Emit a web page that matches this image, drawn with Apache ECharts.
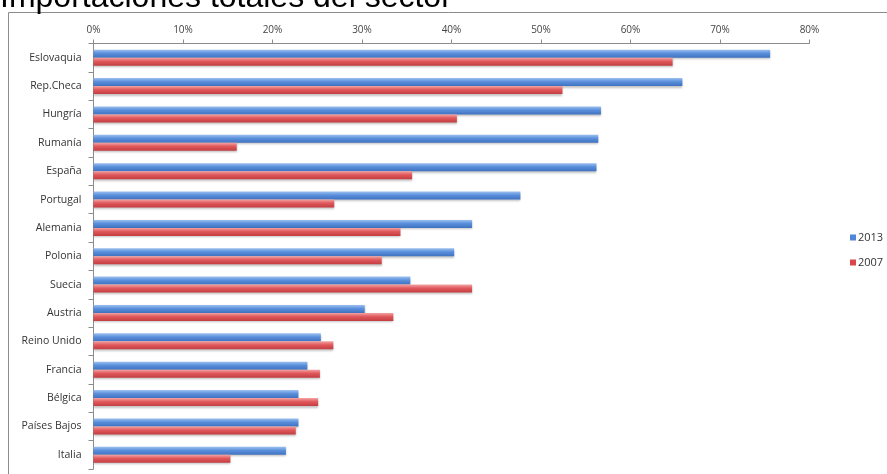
<!DOCTYPE html>
<html>
<head>
<meta charset="utf-8">
<style>
  html, body { margin: 0; padding: 0; background: #fff; }
  #chart { width: 887px; height: 474px; }
</style>
<script src="https://cdn.jsdelivr.net/npm/echarts@6/dist/echarts.min.js"></script>
</head>
<body>
<div id="chart"></div>
<script>
// Import share by country (% of total sector imports)
const countries = ['Eslovaquia', 'Rep.Checa', 'Hungría', 'Rumanía', 'España', 'Portugal', 'Alemania',
  'Polonia', 'Suecia', 'Austria', 'Reino Unido', 'Francia', 'Bélgica', 'Países Bajos', 'Italia'];
const values2013 = [75.6, 65.8, 56.7, 56.4, 56.2, 47.7, 42.3, 40.3, 35.4, 30.3, 25.4, 23.9, 22.9, 22.9, 21.5];
const values2007 = [64.7, 52.4, 40.6, 16.0, 35.6, 26.9, 34.3, 32.2, 42.3, 33.5, 26.8, 25.3, 25.1, 22.6, 15.3];
const xTicks = [0, 10, 20, 30, 40, 50, 60, 70, 80];
const chartTitle = 'Importaciones totales del sector';

const chart = echarts.init(document.getElementById('chart'), null, { renderer: 'canvas' });

function barGradient(light, mid, dark) {
  return new echarts.graphic.LinearGradient(0, 0, 0, 1, [
    { offset: 0, color: light },
    { offset: 0.45, color: mid },
    { offset: 1, color: dark }
  ]);
}

const labelFont = '"Open Sans", "DejaVu Sans", sans-serif';

chart.setOption({
  animation: false,
  backgroundColor: '#fff',
  graphic: [
    {
      // chart frame
      type: 'rect',
      shape: { x: 8.5, y: 12.5, width: 900, height: 500 },
      style: { fill: 'none', stroke: '#8c8c8c', lineWidth: 1 },
      silent: true,
      z: -1
    },
    {
      // heading sitting above the frame, partly clipped by the page edge
      type: 'text',
      left: 0,
      top: -18,
      style: {
        text: chartTitle,
        font: '32px "Liberation Sans", Arial, sans-serif',
        fill: '#000'
      },
      silent: true
    }
  ],
  legend: {
    orient: 'vertical',
    left: 845,
    top: 227,
    itemWidth: 6,
    itemHeight: 6,
    itemGap: 14,
    icon: 'rect',
    textStyle: { fontFamily: labelFont, fontSize: 11, color: '#333', padding: [0, 0, 0, -3] },
    data: [
      { name: '2013', itemStyle: { color: '#4f86d6' } },
      { name: '2007', itemStyle: { color: '#d9474b' } }
    ]
  },
  grid: { left: 93.5, top: 43.5, right: 77.5, bottom: 5, containLabel: false },
  xAxis: {
    type: 'value',
    position: 'top',
    min: xTicks[0],
    max: xTicks[xTicks.length - 1],
    interval: 10,
    axisLine: { show: true, lineStyle: { color: '#8c8c8c', width: 1 } },
    axisTick: { show: true, length: 4, lineStyle: { color: '#8c8c8c' } },
    splitLine: { show: false },
    axisLabel: {
      formatter: v => v + '%',
      margin: 8,
      fontFamily: labelFont,
      fontSize: 10,
      color: '#444'
    }
  },
  yAxis: {
    type: 'category',
    inverse: true,
    data: countries,
    axisLine: { show: true, lineStyle: { color: '#8c8c8c', width: 1 } },
    axisTick: { show: true, length: 5, lineStyle: { color: '#8c8c8c' } },
    axisLabel: {
      margin: 12,
      fontFamily: labelFont,
      fontSize: 10.5,
      color: '#333'
    }
  },
  series: [
    {
      name: '2013',
      type: 'bar',
      data: values2013,
      barWidth: 8,
      barGap: '0%',
      itemStyle: {
        color: barGradient('#9cc0f0', '#5a8fdc', '#3f72c0'),
        shadowColor: 'rgba(0,0,0,0.25)',
        shadowBlur: 2,
        shadowOffsetY: 1.5
      }
    },
    {
      name: '2007',
      type: 'bar',
      data: values2007,
      barWidth: 8,
      barGap: '0%',
      itemStyle: {
        color: barGradient('#f3a3a3', '#e0585b', '#c33d40'),
        shadowColor: 'rgba(0,0,0,0.25)',
        shadowBlur: 2,
        shadowOffsetY: 1.5
      }
    }
  ]
});
</script>
</body>
</html>
